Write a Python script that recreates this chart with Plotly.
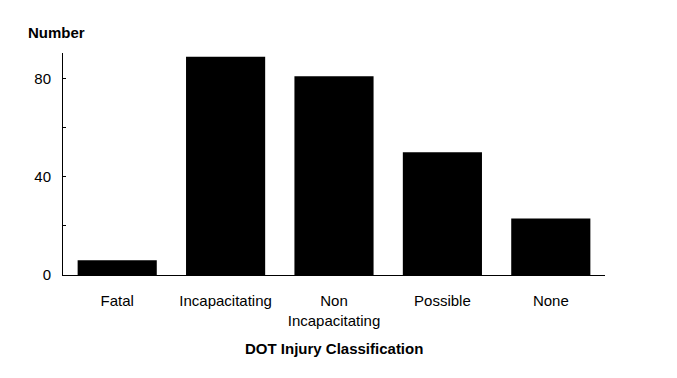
import plotly.graph_objects as go

categories = ["Fatal", "Incapacitating", "Non<br>Incapacitating", "Possible", "None"]
values = [6, 89, 81, 50, 23]
ytick_vals = [0, 40, 80]
ytick_text = ["0", "40", "80"]
yminor_vals = [20, 60]

FONT = "Liberation Sans, Arial, sans-serif"

fig = go.Figure(go.Bar(x=categories, y=values, marker=dict(color="black", line=dict(width=0)),
                       width=0.73))

fig.update_layout(
    width=669, height=370,
    margin=dict(l=55, r=72, t=45, b=103),
    plot_bgcolor="white", paper_bgcolor="white",
    font=dict(family=FONT, size=15, color="black"),
    showlegend=False,
    xaxis=dict(range=[-0.5, 4.5], showline=True, linecolor="black", linewidth=1,
               ticks="", showgrid=False, zeroline=False, ticklabelstandoff=12),
    yaxis=dict(range=[0, 90.5], showline=True, linecolor="black", linewidth=1,
               tickvals=ytick_vals, ticktext=ytick_text, ticks="inside", ticklen=3,
               tickcolor="black", showgrid=False, zeroline=False, ticklabelstandoff=8,
               minor=dict(tickvals=yminor_vals, ticks="inside", ticklen=3, tickcolor="black")),
    annotations=[
        dict(text="<b>Number</b>", xref="paper", yref="paper", x=-37/542, y=1 + 21/222,
             xanchor="left", yanchor="middle", showarrow=False, font=dict(size=15)),
        dict(text="<b>DOT Injury Classification</b>", xref="paper", yref="paper", x=0.5,
             y=-73/222, xanchor="center", yanchor="middle", showarrow=False, font=dict(size=15)),
    ],
)

fig.write_html("out.html")
